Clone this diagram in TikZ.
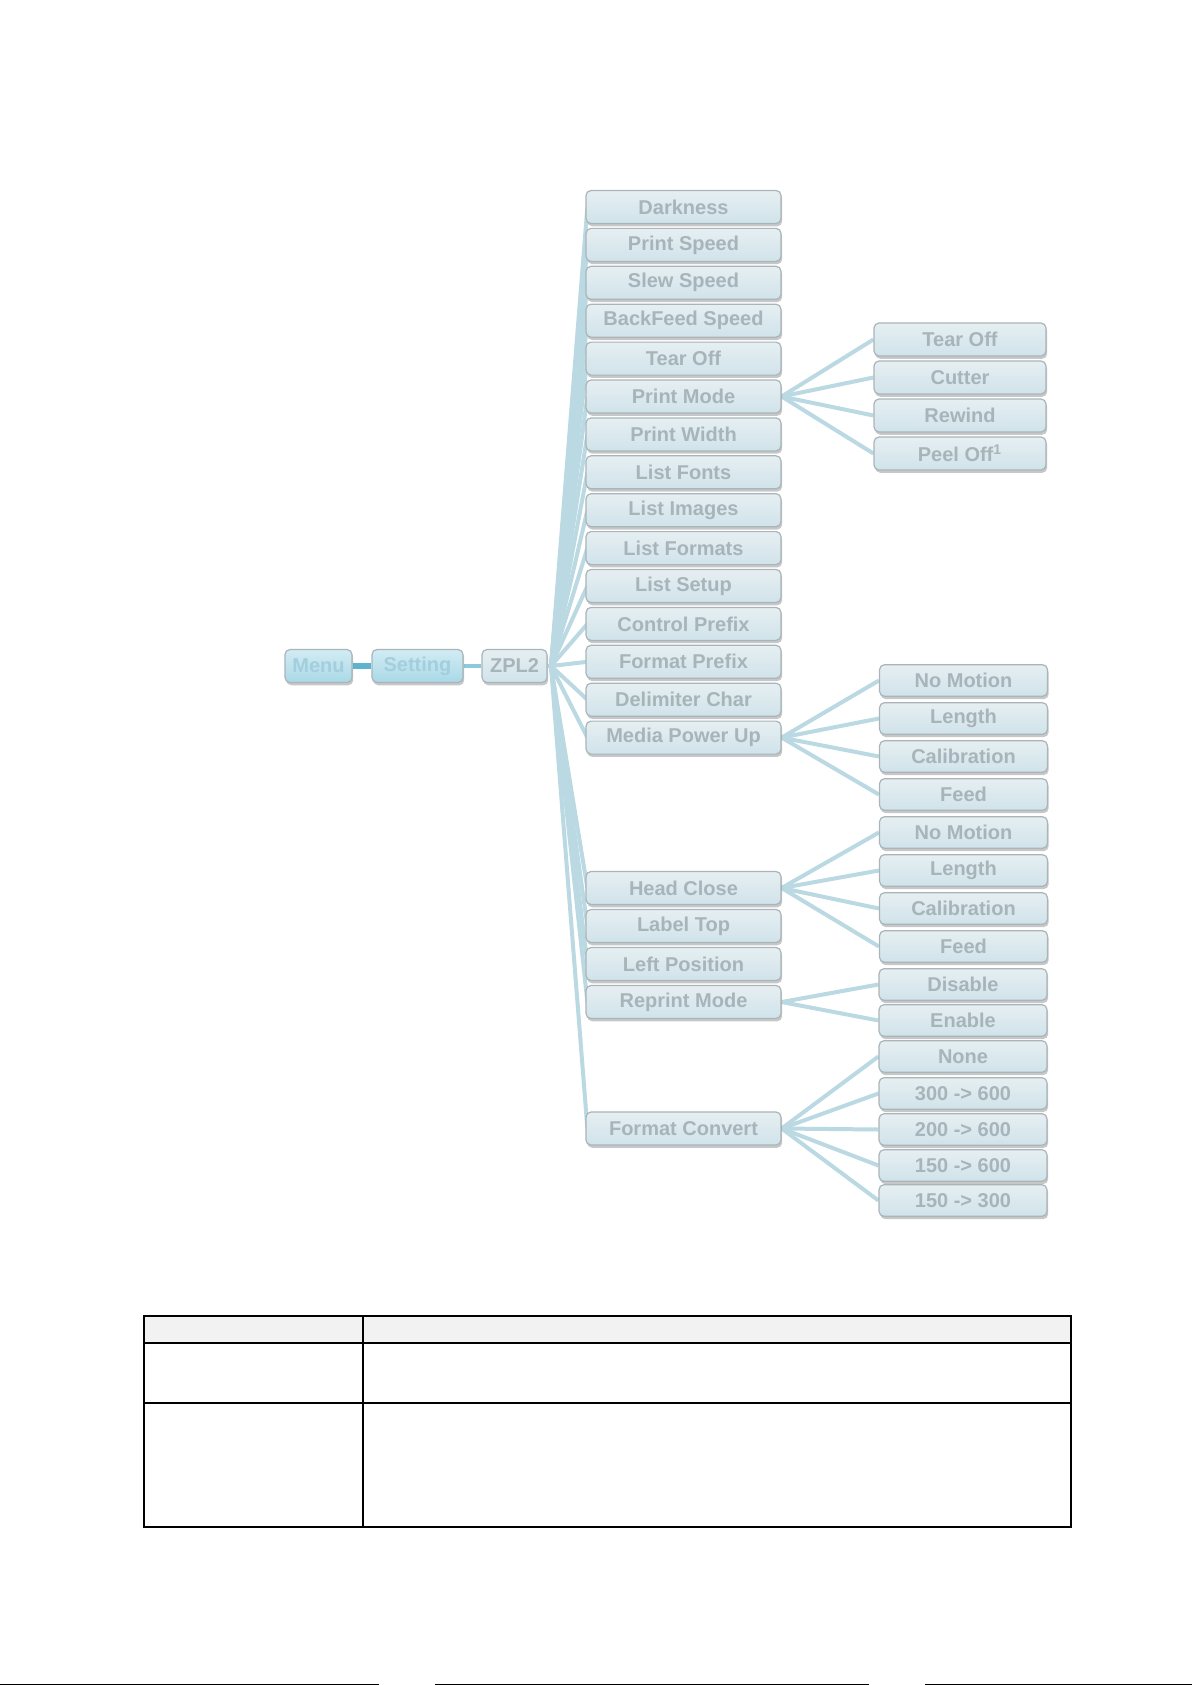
\documentclass[tikz,border=0pt]{standalone}
\usepackage{fontspec}
\setmainfont{Liberation Sans}
\usetikzlibrary{shadows}
\definecolor{boxtop}{HTML}{E6EFF2}
\definecolor{boxbot}{HTML}{D0E3EA}
\definecolor{boxborder}{HTML}{A9B5B9}
\definecolor{boxtext}{HTML}{A7B5BB}
\definecolor{bluetop}{HTML}{D2ECF4}
\definecolor{bluebot}{HTML}{A9D8E7}
\definecolor{bluetext}{HTML}{A3CEDD}
\definecolor{fanline}{HTML}{BBD9E2}
\definecolor{darkline}{HTML}{5EB4CF}
\definecolor{midline}{HTML}{8CC9DB}
\definecolor{headfill}{HTML}{F2F2F2}
\pgfdeclarelayer{bg}
\pgfsetlayers{bg,main}
\tikzset{
  menubox/.style={draw=boxborder, line width=0.6pt, rounded corners=2.5pt,
    top color=boxtop, bottom color=boxbot, text=boxtext,
    font=\bfseries\fontsize{10}{12}\selectfont, inner sep=0pt,
    minimum height=16.5pt,
    drop shadow={shadow xshift=0.6pt, shadow yshift=-1.4pt, opacity=0.22, fill=black}},
  mainbox/.style={menubox, minimum width=97.5pt},
  subbox/.style={menubox, minimum width=84pt, minimum height=15.8pt},
  pmbox/.style={menubox, minimum width=86pt},
  rootbox/.style={menubox, top color=bluetop, bottom color=bluebot, text=bluetext},
  fan/.style={draw=fanline, line width=2pt},
  tableline/.style={draw=black, line width=0.7pt}
}
\begin{document}
\begin{tikzpicture}[x=0.5pt,y=-0.5pt]
\useasboundingbox (0,0) rectangle (1192,1685);

% root chain
\node[rootbox, minimum width=33.5pt] (menu) at (318.5,666) {Menu};
\node[rootbox, minimum width=45.5pt] (setting) at (417.5,666) {Setting};
\node[menubox, minimum width=32.5pt] (zpl) at (514.5,666) {ZPL2};
\coordinate (hub) at (551,666);

% main column
\foreach \t [count=\i from 0] in {Darkness,Print Speed,Slew Speed,BackFeed Speed,Tear Off,Print Mode,Print Width,List Fonts,List Images,List Formats,List Setup,Control Prefix,Format Prefix,Delimiter Char,Media Power Up}{
  \node[mainbox] (m\i) at (683.5,{207+37.9*\i}) {\t};
}
\node[mainbox] (m15) at (683.5,888) {Head Close};
\node[mainbox] (m16) at (683.5,926) {Label Top};
\node[mainbox] (m17) at (683.5,964) {Left Position};
\node[mainbox] (m18) at (683.5,1002) {Reprint Mode};
\node[mainbox] (m19) at (683.5,1128.5) {Format Convert};

% Print Mode options
\node[pmbox] (pm1) at (960,339.5) {Tear Off};
\node[pmbox] (pm2) at (960,377.5) {Cutter};
\node[pmbox] (pm3) at (960,415.5) {Rewind};
\node[pmbox] (pm4) at (960,453.5) {Peel Off\textsuperscript{1}};

% Media Power Up options
\node[subbox] (mp1) at (963.5,680.5) {No Motion};
\node[subbox] (mp2) at (963.5,718.5) {Length};
\node[subbox] (mp3) at (963.5,756.5) {Calibration};
\node[subbox] (mp4) at (963.5,794.5) {Feed};

% Head Close options
\node[subbox] (hc1) at (963.5,832.5) {No Motion};
\node[subbox] (hc2) at (963.5,870.5) {Length};
\node[subbox] (hc3) at (963.5,908.5) {Calibration};
\node[subbox] (hc4) at (963.5,946.5) {Feed};

% Reprint Mode options
\node[subbox] (rm1) at (963,984.5) {Disable};
\node[subbox] (rm2) at (963,1020.5) {Enable};

% Format Convert options
\node[subbox] (fc1) at (963,1056.5) {None};
\node[subbox] (fc2) at (963,1093.5) {300 -> 600};
\node[subbox] (fc3) at (963,1129.5) {200 -> 600};
\node[subbox] (fc4) at (963,1165.5) {150 -> 600};
\node[subbox] (fc5) at (963,1200.5) {150 -> 300};

\begin{pgfonlayer}{bg}
  \fill[white] (0,0) rectangle (1192,1685);
  \draw[darkline, line width=2.6pt] (menu.east) -- (setting.west);
  \draw[midline, line width=2pt] (setting.east) -- (zpl.west);
  \draw[fan] (zpl.east) -- (hub);
  \foreach \i in {0,...,19} { \draw[fan] (hub) -- ([xshift=1pt]m\i.west); }
  \foreach \i in {1,...,4} { \draw[fan] (m5.east) -- (pm\i.west); }
  \foreach \i in {1,...,4} { \draw[fan] (m14.east) -- (mp\i.west); }
  \foreach \i in {1,...,4} { \draw[fan] (m15.east) -- (hc\i.west); }
  \foreach \i in {1,2} { \draw[fan] (m18.east) -- (rm\i.west); }
  \foreach \i in {1,...,5} { \draw[fan] (m19.east) -- (fc\i.west); }
\end{pgfonlayer}

% table
\fill[headfill] (144,1316) rectangle (1071,1343);
\draw[tableline] (144,1316) rectangle (1071,1527);
\draw[tableline] (144,1343) -- (1071,1343);
\draw[tableline] (144,1403) -- (1071,1403);
\draw[tableline] (363,1316) -- (363,1527);

% bottom edge marks
\draw[black, line width=0.5pt] (0,1684.5) -- (379,1684.5);
\draw[black, line width=0.5pt] (435,1684.5) -- (869,1684.5);
\draw[black, line width=0.5pt] (925,1684.5) -- (1192,1684.5);
\end{tikzpicture}
\end{document}
